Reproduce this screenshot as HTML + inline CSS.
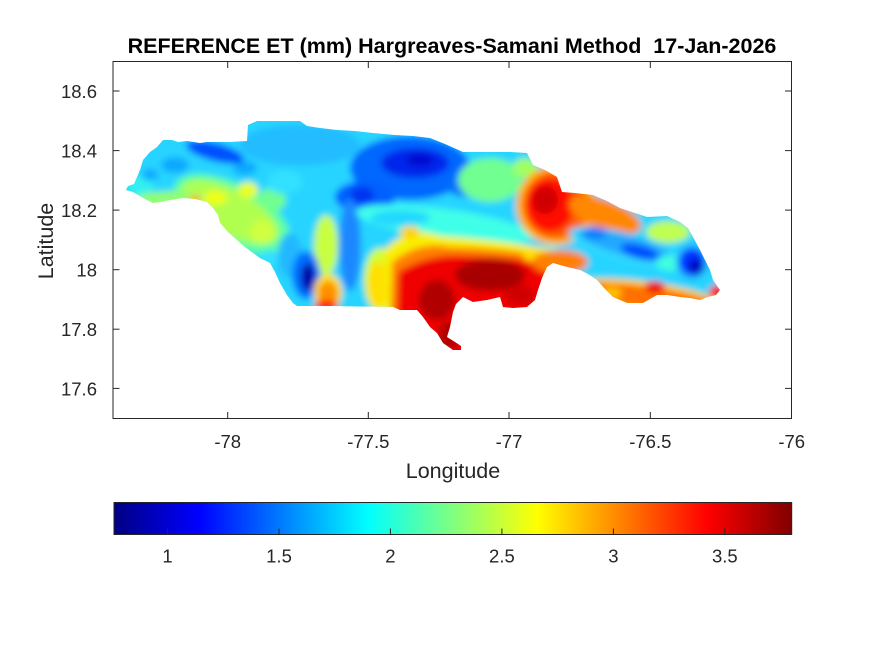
<!DOCTYPE html>
<html><head><meta charset="utf-8"><style>
html,body{margin:0;padding:0;background:#fff;}
svg{display:block;}
text{font-family:"Liberation Sans",Arial,sans-serif;fill:#262626;}
</style></head><body>
<svg width="875" height="656" viewBox="0 0 875 656" xmlns="http://www.w3.org/2000/svg">
<defs>
<linearGradient id="jet" x1="0" y1="0" x2="1" y2="0">
<stop offset="0" stop-color="#000083"/>
<stop offset="0.125" stop-color="#0000ff"/>
<stop offset="0.375" stop-color="#00ffff"/>
<stop offset="0.625" stop-color="#ffff00"/>
<stop offset="0.875" stop-color="#ff0000"/>
<stop offset="1" stop-color="#800000"/>
</linearGradient>
<clipPath id="isl"><path d="M126,190 L128,186 L134,184 L140,170 L143,160 L150,152 L157,147 L163,140 L172,140 L178,142 L187,141 L200,143 L207,142 L230,142 L247,141 L248,125 L257,121 L300,121 L307,126 L320,128 L337,130 L355,131 L373,133 L395,135 L413,136 L430,138 L445,144 L463,152 L490,152 L510,152 L527,153 L533,165 L545,170 L557,177 L562,192 L575,193 L593,195 L607,201 L620,208 L635,213 L647,217 L667,216 L680,222 L688,228 L693,237 L700,250 L705,260 L710,270 L713,280 L720,290 L716,295 L708,297 L700,300 L690,298 L680,297 L667,295 L657,295 L650,299 L643,303 L627,303 L613,297 L605,289 L597,280 L588,274 L580,270 L567,267 L553,263 L547,267 L542,278 L538,290 L535,300 L527,307 L513,308 L503,307 L500,297 L487,300 L473,302 L463,297 L456,304 L453,312 L450,327 L447,337 L455,342 L461,346 L461,350 L453,350 L443,343 L437,333 L430,327 L423,317 L417,310 L400,310 L393,307 L330,306 L297,306 L293,303 L287,295 L280,283 L275,272 L270,263 L260,258 L253,253 L245,247 L237,240 L228,232 L220,223 L218,215 L213,208 L207,202 L195,199 L183,198 L170,200 L160,202 L153,203 L145,199 L138,195 L133,192 Z"/></clipPath>
<filter id="bl" x="-20%" y="-20%" width="140%" height="140%"><feGaussianBlur stdDeviation="3.5"/></filter>
</defs>

<rect x="113" y="61.5" width="678.5" height="357" fill="#fff"/>

<g clip-path="url(#isl)">
<g filter="url(#bl)">
<rect x="100" y="100" width="640" height="280" fill="#28d4ff"/>
<!-- west -->
<ellipse cx="140" cy="185" rx="14" ry="10" fill="#30f0f0"/>
<ellipse cx="175" cy="165" rx="14" ry="8" fill="#10a8ff"/>
<ellipse cx="150" cy="175" rx="8" ry="6" fill="#10a8ff"/>
<ellipse cx="245" cy="168" rx="12" ry="7" fill="#10a8ff"/>
<ellipse cx="215" cy="152" rx="30" ry="9" transform="rotate(15 215 152)" fill="#0050ff"/>
<ellipse cx="232" cy="214" rx="64" ry="30" transform="rotate(28 232 214)" fill="#60ffa0"/>
<ellipse cx="230" cy="212" rx="54" ry="22" transform="rotate(28 230 212)" fill="#b0ff50"/>
<ellipse cx="175" cy="200" rx="42" ry="9" fill="#90ff70"/>
<ellipse cx="215" cy="198" rx="12" ry="7" fill="#f0ff10"/>
<ellipse cx="195" cy="199" rx="6" ry="4" fill="#ffb000"/>
<ellipse cx="248" cy="190" rx="10" ry="8" fill="#e8ff20"/>
<ellipse cx="262" cy="232" rx="12" ry="12" fill="#d0ff40"/>
<ellipse cx="272" cy="200" rx="14" ry="12" fill="#70ff90"/>
<ellipse cx="270" cy="258" rx="10" ry="8" fill="#30e0ff"/>
<!-- north central -->
<ellipse cx="300" cy="145" rx="60" ry="20" fill="#20bcff"/>
<ellipse cx="285" cy="182" rx="18" ry="12" fill="#30e0ff"/>
<!-- big blue region -->
<ellipse cx="410" cy="168" rx="60" ry="32" fill="#0068ff"/>
<ellipse cx="365" cy="197" rx="30" ry="16" fill="#0060ff"/>
<ellipse cx="415" cy="163" rx="34" ry="15" fill="#0028ec"/>
<ellipse cx="420" cy="160" rx="14" ry="7" fill="#0010d0"/>
<ellipse cx="362" cy="195" rx="12" ry="8" fill="#0030f0"/>
<ellipse cx="465" cy="185" rx="18" ry="12" fill="#0070ff"/>
<!-- stripes -->
<ellipse cx="350" cy="245" rx="11" ry="46" fill="#1c88ff"/>
<ellipse cx="326" cy="245" rx="12" ry="30" fill="#c8ff40"/>
<ellipse cx="290" cy="255" rx="12" ry="22" fill="#20b8ff"/>
<ellipse cx="306" cy="275" rx="14" ry="24" fill="#0070ff"/>
<ellipse cx="308" cy="277" rx="7" ry="14" fill="#0000a8"/>
<ellipse cx="328" cy="292" rx="14" ry="18" fill="#ffe000"/>
<ellipse cx="328" cy="294" rx="10" ry="13" fill="#ff9000"/>
<ellipse cx="326" cy="306" rx="12" ry="6" fill="#ff2000"/>
<!-- green NE of blue -->
<ellipse cx="490" cy="180" rx="32" ry="22" fill="#70ff90"/>
<ellipse cx="525" cy="168" rx="12" ry="10" fill="#a0ff60"/>
<!-- cyan band -->
<ellipse cx="445" cy="224" rx="90" ry="15" transform="rotate(8 445 224)" fill="#40ffe8"/>
<ellipse cx="400" cy="218" rx="30" ry="8" fill="#20d8ff"/>
<!-- west of red: yellow-green -->
<ellipse cx="380" cy="280" rx="16" ry="32" fill="#d0ff30"/>
<ellipse cx="378" cy="285" rx="11" ry="24" fill="#ffe000"/>
<!-- south red region layered -->
<path d="M384,250 Q410,224 440,236 Q500,240 555,250 L565,330 L470,370 L425,370 L388,330 Z" fill="#f8f000"/>
<path d="M392,262 Q420,240 450,247 Q510,248 552,258 L565,330 L470,370 L425,370 L390,330 Z" fill="#ff8000"/>
<path d="M398,272 Q430,252 470,256 Q520,257 550,265 L565,330 L470,370 L425,370 L396,330 Z" fill="#f00000"/>
<ellipse cx="410" cy="232" rx="10" ry="6" fill="#ffd000"/>
<ellipse cx="490" cy="275" rx="35" ry="16" fill="#a80000"/>
<ellipse cx="437" cy="300" rx="18" ry="20" fill="#b00000"/>
<ellipse cx="450" cy="335" rx="12" ry="14" fill="#b00000"/>
<ellipse cx="520" cy="295" rx="15" ry="10" fill="#d00000"/>
<!-- east -->
<ellipse cx="553" cy="242" rx="8" ry="8" fill="#30f0ff"/>
<ellipse cx="533" cy="255" rx="10" ry="7" fill="#ffe000"/>
<ellipse cx="560" cy="262" rx="28" ry="12" fill="#ff8000"/>
<ellipse cx="556" cy="205" rx="40" ry="40" fill="#ffb000"/>
<ellipse cx="556" cy="205" rx="33" ry="34" fill="#ff6000"/>
<ellipse cx="550" cy="205" rx="24" ry="27" fill="#ff1000"/>
<ellipse cx="545" cy="200" rx="13" ry="14" fill="#d00000"/>
<ellipse cx="605" cy="215" rx="38" ry="15" transform="rotate(20 605 215)" fill="#ff8800"/>
<ellipse cx="625" cy="247" rx="58" ry="14" transform="rotate(15 625 247)" fill="#30d8ff"/>
<ellipse cx="625" cy="245" rx="48" ry="10" transform="rotate(15 625 245)" fill="#20a8ff"/>
<ellipse cx="595" cy="233" rx="12" ry="6" fill="#0080ff"/>
<ellipse cx="640" cy="252" rx="20" ry="7" transform="rotate(15 640 252)" fill="#0050ff"/>
<ellipse cx="668" cy="232" rx="22" ry="11" fill="#c0ff50"/>
<ellipse cx="670" cy="263" rx="14" ry="8" fill="#40ffe0"/>
<ellipse cx="692" cy="262" rx="16" ry="17" fill="#20a0ff"/>
<ellipse cx="692" cy="262" rx="12" ry="13" fill="#0030ff"/>
<ellipse cx="696" cy="267" rx="7" ry="8" fill="#0000c0"/>
<ellipse cx="648" cy="298" rx="80" ry="16" transform="rotate(8 648 298)" fill="#ffd000"/>
<ellipse cx="648" cy="298" rx="76" ry="11" transform="rotate(8 648 298)" fill="#ff7000"/>
<ellipse cx="655" cy="287" rx="10" ry="6" fill="#f00000"/>
<ellipse cx="718" cy="292" rx="9" ry="7" fill="#ff1000"/>
<ellipse cx="612" cy="293" rx="10" ry="6" fill="#ffc000"/>
</g>
</g>

<rect x="113" y="61.5" width="678.5" height="357" fill="none" stroke="#262626" stroke-width="1"/>
<g stroke="#262626" stroke-width="1">
<line x1="227.7" y1="418.5" x2="227.7" y2="412"/><line x1="227.7" y1="61.5" x2="227.7" y2="68"/>
<line x1="368.3" y1="418.5" x2="368.3" y2="412"/><line x1="368.3" y1="61.5" x2="368.3" y2="68"/>
<line x1="509" y1="418.5" x2="509" y2="412"/><line x1="509" y1="61.5" x2="509" y2="68"/>
<line x1="650.3" y1="418.5" x2="650.3" y2="412"/><line x1="650.3" y1="61.5" x2="650.3" y2="68"/>
<line x1="113" y1="91" x2="119.5" y2="91"/><line x1="791.5" y1="91" x2="785" y2="91"/>
<line x1="113" y1="150.6" x2="119.5" y2="150.6"/><line x1="791.5" y1="150.6" x2="785" y2="150.6"/>
<line x1="113" y1="210.1" x2="119.5" y2="210.1"/><line x1="791.5" y1="210.1" x2="785" y2="210.1"/>
<line x1="113" y1="269.7" x2="119.5" y2="269.7"/><line x1="791.5" y1="269.7" x2="785" y2="269.7"/>
<line x1="113" y1="329.2" x2="119.5" y2="329.2"/><line x1="791.5" y1="329.2" x2="785" y2="329.2"/>
<line x1="113" y1="388.4" x2="119.5" y2="388.4"/><line x1="791.5" y1="388.4" x2="785" y2="388.4"/>
</g>
<g font-size="18.5" text-anchor="middle">
<text x="227.7" y="448">-78</text>
<text x="368.3" y="448">-77.5</text>
<text x="509" y="448">-77</text>
<text x="650.3" y="448">-76.5</text>
<text x="791.7" y="448">-76</text>
</g>
<g font-size="18.5" text-anchor="end">
<text x="97" y="98">18.6</text>
<text x="97" y="157.6">18.4</text>
<text x="97" y="217.1">18.2</text>
<text x="97" y="276.7">18</text>
<text x="97" y="336.2">17.8</text>
<text x="97" y="395.4">17.6</text>
</g>
<text x="453" y="478" font-size="21.5" text-anchor="middle">Longitude</text>
<text transform="translate(53 241) rotate(-90)" font-size="21.5" text-anchor="middle">Latitude</text>
<text x="452" y="53" font-size="21.5" font-weight="bold" text-anchor="middle" style="fill:#000" xml:space="preserve">REFERENCE ET (mm) Hargreaves-Samani Method  17-Jan-2026</text>

<rect x="114" y="502.5" width="677.7" height="32" fill="url(#jet)" stroke="#262626" stroke-width="1"/>
<g stroke="#262626" stroke-width="1">
<line x1="167.5" y1="534.5" x2="167.5" y2="528.5"/>
<line x1="279" y1="534.5" x2="279" y2="528.5"/>
<line x1="390.4" y1="534.5" x2="390.4" y2="528.5"/>
<line x1="501.9" y1="534.5" x2="501.9" y2="528.5"/>
<line x1="613.4" y1="534.5" x2="613.4" y2="528.5"/>
<line x1="724.8" y1="534.5" x2="724.8" y2="528.5"/>
</g>
<g font-size="18.5" text-anchor="middle">
<text x="167.5" y="562.5">1</text>
<text x="279" y="562.5">1.5</text>
<text x="390.4" y="562.5">2</text>
<text x="501.9" y="562.5">2.5</text>
<text x="613.4" y="562.5">3</text>
<text x="724.8" y="562.5">3.5</text>
</g>
</svg>
</body></html>
